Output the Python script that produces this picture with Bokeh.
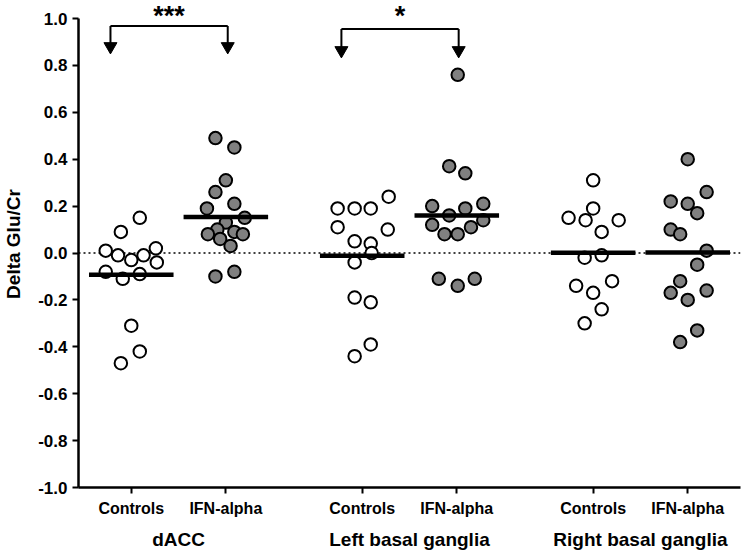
import numpy as np
from bokeh.plotting import figure
from bokeh.models import (Range1d, FixedTicker, LinearAxis, Span, ColumnDataSource,
                          CustomJSTickFormatter, NumeralTickFormatter)
from bokeh.core.properties import value
from bokeh.embed import file_html
from bokeh.resources import INLINE

# ---------------- data ----------------
regions = ["dACC", "Left basal ganglia", "Right basal ganglia"]
groups = ["Controls", "IFN-alpha"]

dacc_controls = [0.15, 0.09, 0.01, -0.01, -0.03, -0.01, 0.02, -0.04, -0.08, -0.11, -0.09, -0.31, -0.42, -0.47]
dacc_controls_jitter = [0.09, -0.11, -0.27, -0.14, 0.0, 0.13, 0.26, 0.27, -0.27, -0.09, 0.09, 0.0, 0.09, -0.11]

dacc_ifn = [0.49, 0.45, 0.31, 0.26, 0.21, 0.19, 0.15, 0.13, 0.10, 0.08, 0.09, 0.08, 0.06, 0.03, -0.10, -0.08]
dacc_ifn_jitter = [-0.11, 0.09, 0.0, -0.11, 0.09, -0.2, 0.2, 0.0, -0.09, -0.19, 0.09, 0.18, -0.06, 0.05, -0.11, 0.09]

lbg_controls = [0.24, 0.19, 0.19, 0.19, 0.11, 0.10, 0.05, 0.04, 0.00, -0.04, -0.19, -0.21, -0.39, -0.44]
lbg_controls_jitter = [0.28, -0.26, -0.08, 0.09, -0.26, 0.27, -0.08, 0.09, 0.1, -0.08, -0.08, 0.09, 0.09, -0.08]

lbg_ifn = [0.76, 0.37, 0.34, 0.21, 0.20, 0.19, 0.16, 0.12, 0.14, 0.11, 0.08, 0.08, -0.11, -0.14, -0.11]
lbg_ifn_jitter = [0.01, -0.08, 0.09, 0.28, -0.26, 0.09, -0.08, -0.26, 0.28, 0.15, -0.13, 0.01, -0.19, 0.01, 0.19]

rbg_controls = [0.31, 0.19, 0.15, 0.14, 0.14, 0.09, -0.02, -0.01, -0.14, -0.12, -0.17, -0.24, -0.30]
rbg_controls_jitter = [0.0, 0.0, -0.26, -0.08, 0.27, 0.09, -0.09, 0.09, -0.18, 0.2, 0.0, 0.09, -0.09]

rbg_ifn = [0.40, 0.26, 0.22, 0.21, 0.17, 0.10, 0.08, 0.01, -0.05, -0.12, -0.17, -0.16, -0.20, -0.33, -0.38]
rbg_ifn_jitter = [0.0, 0.2, -0.18, 0.0, 0.1, -0.18, -0.08, 0.2, 0.1, -0.08, -0.18, 0.2, 0.0, 0.1, -0.08]

series = [
    (0, 0, dacc_controls, dacc_controls_jitter),
    (0, 1, dacc_ifn, dacc_ifn_jitter),
    (1, 0, lbg_controls, lbg_controls_jitter),
    (1, 1, lbg_ifn, lbg_ifn_jitter),
    (2, 0, rbg_controls, rbg_controls_jitter),
    (2, 1, rbg_ifn, rbg_ifn_jitter),
]

# significance brackets: region index, label
brackets = [(0, "***"), (1, "*")]

y_ticks = [-1.0, -0.8, -0.6, -0.4, -0.2, 0.0, 0.2, 0.4, 0.6, 0.8, 1.0]

# ---------------- layout helpers ----------------
GROUP_STEP = 2.442
def xpos(r, g):
    return r * GROUP_STEP + g

FONT = "Liberation Sans"

p = figure(width=743, height=552,
           x_range=Range1d(-0.558, 6.442), y_range=Range1d(-1.0, 1.0768),
           output_backend="svg", toolbar_location=None,
           x_axis_location=None, y_axis_location=None,
           min_border_left=75, min_border_right=3, min_border_top=0, min_border_bottom=65)
p.outline_line_color = None
p.xgrid.visible = False
p.ygrid.visible = False
p.background_fill_color = "white"

# y axis
yax = LinearAxis(ticker=FixedTicker(ticks=y_ticks), bounds=(-1.0, 1.0),
                 formatter=NumeralTickFormatter(format="0.0"))
yax.axis_line_width = 2.5
yax.axis_line_color = "black"
yax.major_tick_line_width = 2
yax.major_tick_line_color = "black"
yax.major_tick_out = 6
yax.major_tick_in = 0
yax.minor_tick_out = 0
yax.minor_tick_in = 0
yax.major_label_standoff = 5
yax.major_label_text_font = FONT
yax.major_label_text_font_style = "bold"
yax.major_label_text_font_size = "17px"
yax.major_label_text_color = "black"
yax.axis_label = "Delta Glu/Cr"
yax.axis_label_text_font = FONT
yax.axis_label_text_font_style = "bold"
yax.axis_label_text_font_size = "19px"
yax.axis_label_text_color = "black"
yax.axis_label_standoff = 11
p.add_layout(yax, "left")

# x axis with group tick labels
cat_ticks = [xpos(r, g) for r in range(len(regions)) for g in range(len(groups))]
cat_labels = [groups[g] for r in range(len(regions)) for g in range(len(groups))]
fmt_code = """
let best = 0; let d = 1e9;
for (let i = 0; i < tpos.length; i++) {
  const dd = Math.abs(tpos[i] - tick);
  if (dd < d) { d = dd; best = i; }
}
return names[best];
"""
xax = LinearAxis(ticker=FixedTicker(ticks=cat_ticks),
                 formatter=CustomJSTickFormatter(args=dict(tpos=cat_ticks, names=cat_labels), code=fmt_code))
xax.axis_line_width = 2.5
xax.axis_line_color = "black"
xax.major_tick_line_width = 2
xax.major_tick_line_color = "black"
xax.major_tick_out = 6
xax.major_tick_in = 0
xax.minor_tick_out = 0
xax.minor_tick_in = 0
xax.major_label_standoff = 6
xax.major_label_text_font = FONT
xax.major_label_text_font_style = "bold"
xax.major_label_text_font_size = "16px"
xax.major_label_text_color = "black"
p.add_layout(xax, "below")

reg_ticks = [xpos(r, 0.5) for r in range(len(regions))]
gax = LinearAxis(ticker=FixedTicker(ticks=reg_ticks),
                 formatter=CustomJSTickFormatter(args=dict(tpos=reg_ticks, names=regions), code=fmt_code))
gax.axis_line_color = None
gax.major_tick_line_color = None
gax.minor_tick_line_color = None
gax.major_tick_out = 0
gax.major_tick_in = 0
gax.minor_tick_out = 0
gax.minor_tick_in = 0
gax.major_label_standoff = 9
gax.major_label_text_font = FONT
gax.major_label_text_font_style = "bold"
gax.major_label_text_font_size = "19px"
gax.major_label_text_color = "black"
p.add_layout(gax, "below")

# zero reference line
p.add_layout(Span(location=0, dimension="width", line_color="black",
                  line_dash="2 3", line_width=1.5, level="underlay"))

# points
for r, g, vals, jit in series:
    x0 = xpos(r, g)
    src = ColumnDataSource(dict(x=[x0 + j for j in jit], y=vals))
    p.scatter("x", "y", source=src, size=12.5, line_color="black", line_width=2,
              fill_color="white" if g == 0 else "#808080")

# mean lines
mx = [xpos(r, g) for r, g, v, j in series]
mv = [float(np.mean(v)) for r, g, v, j in series]
p.segment(x0=[x - 0.447 for x in mx], x1=[x + 0.447 for x in mx], y0=mv, y1=mv,
          line_color="black", line_width=4.5)

# significance brackets
bar_y = [0.968, 0.955]
tip_y = [0.849, 0.832]
for (r, lab), by, ty in zip(brackets, bar_y, tip_y):
    xl = xpos(r, 0) - 0.22
    xr = xpos(r, 1) + 0.02
    head = ty + 0.032
    p.segment(x0=[xl, xl, xr], x1=[xr, xl, xr], y0=[by, by, by], y1=[by, head, head],
              line_color="black", line_width=2)
    p.scatter(x=[xl, xr], y=[head, head], marker="inverted_triangle", size=13,
              fill_color="black", line_color="black", line_width=1)
    p.text(x=[(xl + xr) / 2], y=[1.011], text=[lab], text_align="center",
           text_baseline="middle", text_font=value(FONT), text_font_style="bold",
           text_font_size="27px", text_color="black")

open("out.html", "w").write(file_html(p, INLINE))
